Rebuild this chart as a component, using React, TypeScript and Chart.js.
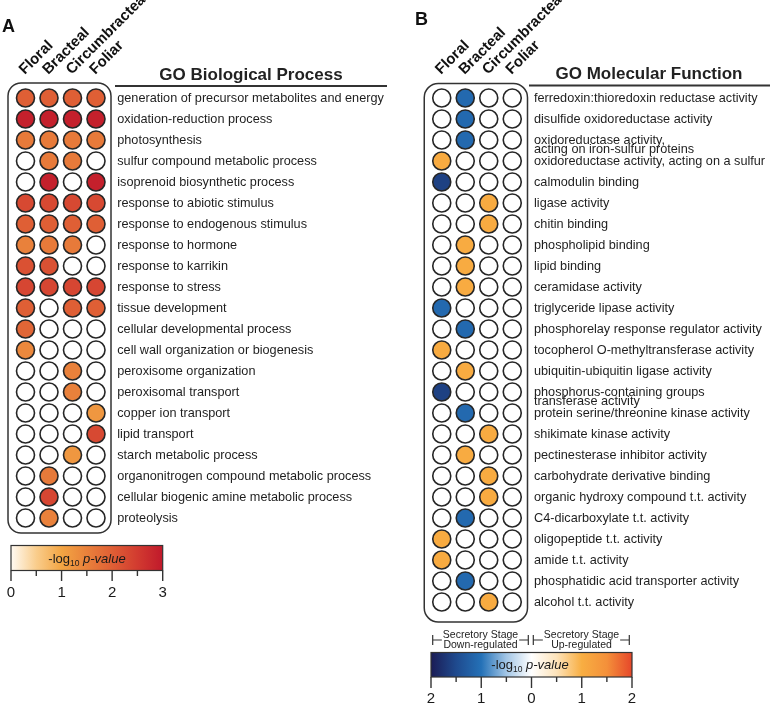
import React, { useEffect, useRef } from 'react';
import { Chart, registerables } from 'chart.js';

Chart.register(...registerables);

const FONT = '"Liberation Sans", Arial, Helvetica, sans-serif';

// ---------------- Panel A data ----------------
const stagesA = ['Floral', 'Bracteal', 'Circumbracteal', 'Foliar'];
const termsA = [
  'generation of precursor metabolites and energy',
  'oxidation-reduction process',
  'photosynthesis',
  'sulfur compound metabolic process',
  'isoprenoid biosynthetic process',
  'response to abiotic stimulus',
  'response to endogenous stimulus',
  'response to hormone',
  'response to karrikin',
  'response to stress',
  'tissue development',
  'cellular developmental process',
  'cell wall organization or biogenesis',
  'peroxisome organization',
  'peroxisomal transport',
  'copper ion transport',
  'lipid transport',
  'starch metabolic process',
  'organonitrogen compound metabolic process',
  'cellular biogenic amine metabolic process',
  'proteolysis',
];
const floralA = [2.0, 2.9, 1.6, null, null, 2.3, 2.0, 1.5, 2.2, 2.35, 2.0, 1.9, 1.4, null, null, null, null, null, null, null, null];
const bractealA = [2.0, 2.9, 1.6, 1.6, 2.9, 2.3, 2.0, 1.6, 2.2, 2.35, null, null, null, null, null, null, null, null, 1.6, 2.35, 1.5];
const circumbractealA = [2.0, 2.9, 1.6, 1.6, null, 2.3, 2.0, 1.6, null, 2.35, 2.0, null, null, 1.5, 1.5, null, null, 1.2, null, null, null];
const foliarA = [2.0, 2.9, 1.6, null, 2.9, 2.3, 2.0, null, null, 2.35, 2.0, null, null, null, null, 1.2, 2.3, null, null, null, null];
const colorStopsA: [number, string][] = [
  [0, '#fffaf3'], [0.5, '#f9cd8c'], [1, '#f3a543'], [1.5, '#e9813b'], [2, '#df5f35'], [2.5, '#d23b30'], [3, '#c0192b'],
];
const cbTicksA = [0, 1, 2, 3];
const cbLabelsA = ['0', '1', '2', '3'];

// ---------------- Panel B data ----------------
const stagesB = ['Floral', 'Bracteal', 'Circumbracteal', 'Foliar'];
const termsB: (string | string[])[] = [
  'ferredoxin:thioredoxin reductase activity',
  'disulfide oxidoreductase activity',
  ['oxidoreductase activity,', 'acting on iron-sulfur proteins'],
  'oxidoreductase activity, acting on a sulfur',
  'calmodulin binding',
  'ligase activity',
  'chitin binding',
  'phospholipid binding',
  'lipid binding',
  'ceramidase activity',
  'triglyceride lipase activity',
  'phosphorelay response regulator activity',
  'tocopherol O-methyltransferase activity',
  'ubiquitin-ubiquitin ligase activity',
  ['phosphorus-containing groups', 'transferase activity'],
  'protein serine/threonine kinase activity',
  'shikimate kinase activity',
  'pectinesterase inhibitor activity',
  'carbohydrate derivative binding',
  'organic hydroxy compound t.t. activity',
  'C4-dicarboxylate t.t. activity',
  'oligopeptide t.t. activity',
  'amide t.t. activity',
  'phosphatidic acid transporter activity',
  'alcohol t.t. activity',
];
// negative = down-regulated (blue), positive = up-regulated (orange)
const floralB = [null, null, null, 1.05, -1.6, null, null, null, null, null, -1.1, null, 1.05, null, -1.6, null, null, null, null, null, null, 1.05, 1.05, null, null];
const bractealB = [-1.1, -1.1, -1.1, null, null, null, null, 1.05, 1.05, 1.05, null, -1.1, null, 1.05, null, -1.1, null, 1.05, null, null, -1.1, null, null, -1.1, null];
const circumbractealB = [null, null, null, null, null, 1.05, 1.05, null, null, null, null, null, null, null, null, null, 1.05, null, 1.05, 1.05, null, null, null, null, 1.05];
const foliarB = [null, null, null, null, null, null, null, null, null, null, null, null, null, null, null, null, null, null, null, null, null, null, null, null, null];
const colorStopsB: [number, string][] = [
  [-2, '#1b1c55'], [-1.5, '#1f4a8e'], [-1, '#2471b7'], [-0.5, '#a3c6e6'], [0, '#ffffff'],
  [0.5, '#fde3ba'], [1, '#f8ae42'], [1.5, '#f4903a'], [2, '#e6472a'],
];
const cbTicksB = [-2, -1, 0, 1, 2];
const cbLabelsB = ['2', '1', '0', '1', '2'];
const bracketTextDown = ['Secretory Stage', 'Down-regulated'];
const bracketTextUp = ['Secretory Stage', 'Up-regulated'];

// ---------------- helpers ----------------
function hexToRgb(h: string) {
  const n = parseInt(h.slice(1), 16);
  return [(n >> 16) & 255, (n >> 8) & 255, n & 255];
}
function colorFor(v: number | null, stops: [number, string][]) {
  if (v === null || v === undefined) return '#ffffff';
  if (v <= stops[0][0]) return stops[0][1];
  for (let i = 1; i < stops.length; i++) {
    if (v <= stops[i][0]) {
      const [a, ca] = stops[i - 1];
      const [b, cb] = stops[i];
      const t = (v - a) / (b - a);
      const A = hexToRgb(ca), B = hexToRgb(cb);
      const c = A.map((x, k) => Math.round(x + (B[k] - x) * t));
      return `rgb(${c[0]},${c[1]},${c[2]})`;
    }
  }
  return stops[stops.length - 1][1];
}

function roundRectPath(ctx: CanvasRenderingContext2D, x: number, y: number, w: number, h: number, r: number) {
  ctx.beginPath();
  ctx.moveTo(x + r, y);
  ctx.lineTo(x + w - r, y);
  ctx.arcTo(x + w, y, x + w, y + r, r);
  ctx.lineTo(x + w, y + h - r);
  ctx.arcTo(x + w, y + h, x + w - r, y + h, r);
  ctx.lineTo(x + r, y + h);
  ctx.arcTo(x, y + h, x, y + h - r, r);
  ctx.lineTo(x, y + r);
  ctx.arcTo(x, y, x + r, y, r);
  ctx.closePath();
}

type PanelCfg = {
  id: string;
  left: number;
  width: number;
  stages: string[];
  terms: (string | string[])[];
  series: (number | null)[][];
  stops: [number, string][];
  ca: { left: number; right: number; top: number; bottom: number };
  labelPad: number;
  box: { l: number; r: number; t: number; b: number; radius: number };
  letter: { text: string; x: number; y: number };
  title: { text: string; x: number; y: number };
  rule: { x0: number; x1: number; y: number };
  cb: {
    x0: number; x1: number; y0: number; y1: number; min: number; max: number;
    ticks: number[]; labels: string[]; labelY: number; majorEnd: number; minorEnd: number;
    textX: number; textY: number;
  };
  brackets?: { x0: number; x1: number; cx: number; y: number; lines: string[] }[];
};

function drawPValueText(ctx: CanvasRenderingContext2D, cx: number, cy: number) {
  const f1 = `13px ${FONT}`;
  const f2 = `8.5px ${FONT}`;
  const f3 = `italic 13px ${FONT}`;
  ctx.font = f1; const w1 = ctx.measureText('-log').width;
  ctx.font = f2; const w2 = ctx.measureText('10').width;
  ctx.font = f3; const w3 = ctx.measureText(' p-value').width;
  let x = cx - (w1 + w2 + w3) / 2;
  const base = cy + 4.5;
  ctx.fillStyle = '#1a1a1a';
  ctx.textAlign = 'left';
  ctx.textBaseline = 'alphabetic';
  ctx.font = f1; ctx.fillText('-log', x, base); x += w1;
  ctx.font = f2; ctx.fillText('10', x, base + 3); x += w2;
  ctx.font = f3; ctx.fillText(' p-value', x, base);
}

function makeDecorPlugin(cfg: PanelCfg) {
  return {
    id: 'decor' + cfg.id,
    beforeDatasetsDraw(chart: any) {
      const { ctx, chartArea: ca } = chart;
      const b = cfg.box;
      ctx.save();
      roundRectPath(ctx, ca.left - b.l, ca.top - b.t, ca.right - ca.left + b.l + b.r, ca.bottom - ca.top + b.t + b.b, b.radius);
      ctx.lineWidth = 1.5;
      ctx.strokeStyle = '#333333';
      ctx.stroke();
      ctx.restore();
    },
    afterDraw(chart: any) {
      const { ctx } = chart;
      ctx.save();
      // panel letter
      ctx.fillStyle = '#111';
      ctx.font = `bold 18px ${FONT}`;
      ctx.textAlign = 'left';
      ctx.textBaseline = 'alphabetic';
      ctx.fillText(cfg.letter.text, cfg.letter.x, cfg.letter.y);
      // title
      ctx.font = `bold 17px ${FONT}`;
      ctx.textAlign = 'center';
      ctx.fillStyle = '#222';
      ctx.fillText(cfg.title.text, cfg.title.x, cfg.title.y);
      // rule
      ctx.beginPath();
      ctx.moveTo(cfg.rule.x0, cfg.rule.y);
      ctx.lineTo(cfg.rule.x1, cfg.rule.y);
      ctx.lineWidth = 2;
      ctx.strokeStyle = '#333';
      ctx.stroke();

      // colorbar
      const c = cfg.cb;
      const px = (v: number) => c.x0 + ((v - c.min) / (c.max - c.min)) * (c.x1 - c.x0);
      const g = ctx.createLinearGradient(c.x0, 0, c.x1, 0);
      cfg.stops.forEach(([v, col]) => g.addColorStop((v - c.min) / (c.max - c.min), col));
      ctx.fillStyle = g;
      ctx.fillRect(c.x0, c.y0, c.x1 - c.x0, c.y1 - c.y0);
      ctx.lineWidth = 1.2;
      ctx.strokeStyle = '#333';
      ctx.strokeRect(c.x0, c.y0, c.x1 - c.x0, c.y1 - c.y0);
      drawPValueText(ctx, c.textX, c.textY);
      // ticks
      ctx.strokeStyle = '#333';
      ctx.lineWidth = 1.4;
      for (let v = c.min; v <= c.max + 1e-9; v += 0.5) {
        const major = Math.abs(v - Math.round(v)) < 1e-9;
        ctx.beginPath();
        ctx.moveTo(px(v), c.y1);
        ctx.lineTo(px(v), major ? c.majorEnd : c.minorEnd);
        ctx.stroke();
      }
      ctx.fillStyle = '#1a1a1a';
      ctx.font = `15px ${FONT}`;
      ctx.textAlign = 'center';
      ctx.textBaseline = 'middle';
      c.ticks.forEach((v, i) => ctx.fillText(c.labels[i], px(v), c.labelY));

      // brackets
      (cfg.brackets || []).forEach((br) => {
        ctx.font = `10.5px ${FONT}`;
        ctx.fillStyle = '#222';
        ctx.textAlign = 'center';
        ctx.textBaseline = 'middle';
        const w = Math.max(...br.lines.map((l) => ctx.measureText(l).width));
        ctx.fillText(br.lines[0], br.cx, br.y - 4.5);
        ctx.fillText(br.lines[1], br.cx, br.y + 5);
        ctx.strokeStyle = '#333';
        ctx.lineWidth = 1.2;
        ctx.beginPath();
        ctx.moveTo(br.x0, br.y - 5); ctx.lineTo(br.x0, br.y + 5);
        ctx.moveTo(br.x1, br.y - 5); ctx.lineTo(br.x1, br.y + 5);
        ctx.moveTo(br.x0, br.y); ctx.lineTo(br.cx - w / 2 - 1, br.y);
        ctx.moveTo(br.cx + w / 2 + 1, br.y); ctx.lineTo(br.x1, br.y);
        ctx.stroke();
      });
      ctx.restore();
    },
  };
}

function buildConfig(cfg: PanelCfg): any {
  const H = 705;
  const points: { x: number; y: number }[] = [];
  const colors: string[] = [];
  cfg.series.forEach((vals, col) => {
    vals.forEach((v, row) => {
      points.push({ x: col, y: row });
      colors.push(colorFor(v, cfg.stops));
    });
  });
  return {
    type: 'scatter',
    data: {
      datasets: [
        {
          data: points,
          pointBackgroundColor: colors,
          pointBorderColor: '#262626',
          pointBorderWidth: 1.6,
          pointRadius: 9,
          pointHoverRadius: 9,
          clip: false,
        },
      ],
    },
    options: {
      responsive: false,
      animation: false,
      events: [],
      layout: {
        autoPadding: false,
        padding: { left: cfg.ca.left, right: 0, top: 0, bottom: H - cfg.ca.bottom },
      },
      plugins: { legend: { display: false }, tooltip: { enabled: false }, title: { display: false } },
      scales: {
        x: {
          type: 'linear',
          position: 'top',
          min: -0.5,
          max: cfg.stages.length - 0.5,
          grid: { display: false, drawTicks: false },
          border: { display: false },
          afterBuildTicks: (s: any) => {
            s.ticks = cfg.stages.map((_, i) => ({ value: i }));
          },
          afterFit: (s: any) => {
            s.height = cfg.ca.top;
            s.paddingLeft = 0;
            s.paddingRight = 0;
          },
          ticks: {
            autoSkip: false,
            minRotation: 45,
            maxRotation: 45,
            padding: 9,
            labelOffset: 9,
            color: '#111',
            font: { family: FONT, size: 15, weight: 'bold' },
            callback: (v: number) => cfg.stages[v],
          },
        },
        y: {
          type: 'linear',
          position: 'right',
          reverse: true,
          min: -0.5,
          max: cfg.terms.length - 0.5,
          grid: { display: false, drawTicks: false },
          border: { display: false },
          afterBuildTicks: (s: any) => {
            s.ticks = cfg.terms.map((_, i) => ({ value: i }));
          },
          afterFit: (s: any) => {
            s.width = cfg.width - cfg.ca.right;
            s.paddingTop = 0;
            s.paddingBottom = 0;
          },
          ticks: {
            autoSkip: false,
            padding: cfg.labelPad,
            color: '#1e1e1e',
            font: { family: FONT, size: 12.7, lineHeight: 0.72 },
            // two-line terms: first line sits on the row, the second hangs below it
            callback: (v: number) => {
              const t = cfg.terms[v];
              return Array.isArray(t) ? ['', ...t] : t;
            },
          },
        },
      },
    },
    plugins: [makeDecorPlugin(cfg)],
  };
}

const panelA: PanelCfg = {
  id: 'A',
  left: 0,
  width: 400,
  stages: stagesA,
  terms: termsA,
  series: [floralA, bractealA, circumbractealA, foliarA],
  stops: colorStopsA,
  ca: { left: 13.75, right: 107.75, top: 87.5, bottom: 528.5 },
  labelPad: 9.5,
  box: { l: 5.75, r: 3.25, t: 4.5, b: 4.5, radius: 13 },
  letter: { text: 'A', x: 2, y: 32 },
  title: { text: 'GO Biological Process', x: 251, y: 79.5 },
  rule: { x0: 115, x1: 387, y: 86 },
  cb: {
    x0: 11, x1: 162.7, y0: 545.5, y1: 570.5, min: 0, max: 3,
    ticks: cbTicksA, labels: cbLabelsA, labelY: 592.5, majorEnd: 581, minorEnd: 576,
    textX: 87, textY: 558,
  },
};

const panelB: PanelCfg = {
  id: 'B',
  left: 400,
  width: 370,
  stages: stagesB,
  terms: termsB,
  series: [floralB, bractealB, circumbractealB, foliarB],
  stops: colorStopsB,
  ca: { left: 30, right: 124, top: 87.5, bottom: 612.5 },
  labelPad: 10,
  box: { l: 5.75, r: 3.5, t: 4, b: 9.5, radius: 14 },
  letter: { text: 'B', x: 15, y: 25 },
  title: { text: 'GO Molecular Function', x: 249, y: 78.5 },
  rule: { x0: 129, x1: 370, y: 85.5 },
  cb: {
    x0: 31, x1: 232, y0: 652.5, y1: 677, min: -2, max: 2,
    ticks: cbTicksB, labels: cbLabelsB, labelY: 699, majorEnd: 688, minorEnd: 682,
    textX: 130, textY: 664.5,
  },
  brackets: [
    { x0: 32.7, x1: 128.3, cx: 80.5, y: 640, lines: bracketTextDown },
    { x0: 133.3, x1: 229.3, cx: 181.5, y: 640, lines: bracketTextUp },
  ],
};

function Panel({ cfg }: { cfg: PanelCfg }) {
  const ref = useRef<HTMLCanvasElement>(null);
  useEffect(() => {
    if (!ref.current) return;
    const chart = new Chart(ref.current, buildConfig(cfg));
    return () => chart.destroy();
  }, [cfg]);
  return (
    <canvas
      ref={ref}
      width={cfg.width}
      height={705}
      style={{ position: 'absolute', left: cfg.left, top: 0, width: cfg.width, height: 705, display: 'block' }}
    />
  );
}

export default function App() {
  return (
    <div style={{ position: 'absolute', left: 0, top: 0, width: 770, height: 705, background: '#ffffff', overflow: 'hidden' }}>
      <Panel cfg={panelA} />
      <Panel cfg={panelB} />
    </div>
  );
}
